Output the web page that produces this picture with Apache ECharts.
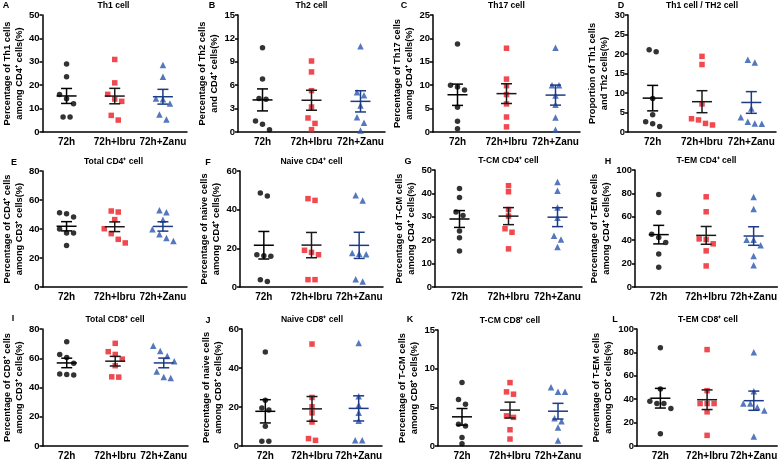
<!DOCTYPE html>
<html>
<head>
<meta charset="utf-8">
<script src="https://cdn.jsdelivr.net/npm/echarts@6/dist/echarts.min.js"></script>
<style>
html, body { margin: 0; padding: 0; background: #fff; }
#chart { width: 780px; height: 461px; }
</style>
</head>
<body>
<div id="chart"></div>
<script>
"use strict";

const groups = ["72h", "72h+Ibru", "72h+Zanu"];

// values per panel: [72h, 72h+Ibru, 72h+Zanu]
const th1 = [[29.1, 23.6, 16.0, 14.2, 12.1, 6.4, 6.4], [31.0, 21.0, 16.1, 14.1, 13.1, 7.1, 5.1], [28.6, 23.6, 14.3, 14.0, 12.2, 7.5, 5.3]];
const th2 = [[10.8, 6.8, 4.3, 4.2, 1.4, 1.0, 0.3], [9.1, 7.7, 5.3, 3.2, 1.8, 1.1, 0.3], [11.0, 5.1, 4.7, 3.4, 1.9, 1.2, 0.2]];
const th17 = [[18.8, 10.0, 9.6, 9.0, 5.3, 2.3, 0.7], [17.9, 11.3, 9.9, 8.0, 6.0, 3.2, 1.1], [18.0, 10.0, 10.0, 7.8, 5.8, 3.1, 0.5]];
const th1th2 = [[21.1, 20.6, 8.6, 4.4, 2.6, 2.1, 1.4], [19.4, 17.3, 7.2, 3.4, 3.1, 2.2, 1.8], [18.5, 17.8, 6.0, 3.8, 2.6, 2.2, 2.1]];
const cd4Total = [[51.2, 50.6, 48.3, 40.0, 37.2, 37.2, 28.7], [52.4, 51.7, 46.5, 40.2, 36.8, 32.9, 30.4], [52.9, 51.5, 46.4, 39.8, 36.3, 33.8, 31.7]];
const cd4Naive = [[48.6, 47.1, 16.7, 16.2, 15.9, 3.8, 2.9], [45.7, 44.8, 19.0, 17.9, 16.7, 3.8, 3.8], [47.4, 44.8, 17.6, 17.2, 16.9, 4.0, 2.9]];
const cd4Tcm = [[42.1, 38.3, 32.0, 30.6, 23.9, 21.1, 15.4], [43.3, 40.7, 33.1, 30.3, 24.9, 23.4, 16.3], [44.9, 41.1, 34.0, 29.6, 21.9, 20.3, 17.1]];
const cd4Tem = [[79.1, 63.7, 45.1, 42.3, 38.0, 28.3, 16.9], [77.1, 64.3, 41.1, 40.6, 36.9, 30.9, 18.0], [76.9, 66.6, 40.3, 40.3, 35.7, 26.6, 18.6]];
const cd8Total = [[71.3, 62.6, 60.5, 56.5, 49.3, 48.9, 48.5], [70.2, 64.5, 62.6, 59.4, 54.9, 47.3, 47.1], [68.6, 64.9, 61.5, 58.0, 51.0, 47.1, 46.5]];
const cd8Naive = [[48.2, 23.5, 19.5, 18.4, 10.1, 2.4, 2.4], [52.3, 24.9, 20.1, 17.0, 12.3, 3.8, 2.9], [52.8, 25.5, 20.9, 17.0, 13.0, 2.9, 2.9]];
const cd8Tcm = [[8.2, 6.0, 5.4, 2.8, 2.6, 1.1, 0.3], [8.2, 7.0, 6.7, 3.9, 3.7, 2.1, 0.9], [7.6, 7.0, 7.0, 3.6, 3.2, 2.4, 0.7]];
const cd8Tem = [[83.9, 48.7, 38.2, 36.3, 36.3, 32.0, 10.5], [82.4, 47.3, 36.3, 36.3, 36.3, 29.2, 9.1], [80.2, 46.7, 36.3, 36.3, 33.1, 30.3, 8.2]];

const panelData = [th1, th2, th17, th1th2, cd4Total, cd4Naive, cd4Tcm, cd4Tem, cd8Total, cd8Naive, cd8Tcm, cd8Tem];
const letters = ["A", "B", "C", "D", "E", "F", "G", "H", "I", "J", "K", "L"];
const titles = ["Th1 cell", "Th2 cell", "Th17 cell", "Th1 cell / TH2 cell",
	"Total CD4⁺ cell", "Naive CD4⁺ cell", "T-CM CD4⁺ cell", "T-EM CD4⁺ cell",
	"Total CD8⁺ cell", "Naive CD8⁺ cell", "T-CM CD8⁺ cell", "T-EM CD8⁺ cell"];
const yNames = [
	"Percentage of Th1 cells\namong CD4⁺ cells(%)", "Percentage of Th2 cells\nand CD4⁺ cells(%)",
	"Percentage of Th17 cells\namong CD4⁺ cells(%)", "Proportion of Th1 cells\nand Th2 cells(%)",
	"Percentage of CD4⁺ cells\namong CD3⁺ cells(%)", "Percentage of naive cells\namong CD4⁺ cells(%)",
	"Percentage of T-CM cells\namong CD4⁺ cells(%)", "Percentage of T-EM cells\namong CD4⁺ cells(%)",
	"Percentage of CD8⁺ cells\namong CD3⁺ cells(%)", "Percentage of naive cells\namong CD8⁺ cells(%)",
	"Percentage of T-CM cells\namong CD8⁺ cells(%)", "Percentage of T-EM cells\namong CD8⁺ cells(%)"];
const yMax = [50, 15, 25, 30, 80, 60, 50, 100, 80, 60, 15, 100];
const yStep = [10, 3, 5, 5, 20, 20, 10, 20, 20, 20, 5, 20];

// grid boxes: [left, top, width, height]
const boxes = [
	[40, 15, 147, 117], [238, 15, 147, 117], [433, 15, 147, 117], [628, 15, 148, 117],
	[40, 171, 147, 116], [240, 171, 143, 116], [435, 170, 147, 117], [635, 170, 143, 117],
	[42, 329, 146, 117], [242, 329, 140, 117], [438, 330, 144, 117], [637, 329, 142, 117]];
const letterPos = [[6, 6], [212, 6], [404, 6], [621, 6], [14, 163], [208, 163], [408, 162], [608, 162],
	[13, 319], [208, 321], [410, 320], [615, 320]];

const FONT = "'Liberation Sans', Arial, sans-serif";
const symbols = ["circle", "rect", "triangle"];
const colors = ["#000000", "#ec1c24", "#2b55ad"];
const barColors = ["#000000", "#1a1a1a", "#1d3a84"];

// spread points that overlap, like a column scatter
const spread = (vals, pxPerUnit) => {
	const idx = vals.map((v, i) => i).sort((a, b) => vals[b] - vals[a]);
	const off = new Array(vals.length).fill(0);
	let run = [idx[0]];
	const flush = () => {
		run.forEach((k, j) => { off[k] = (j - (run.length - 1) / 2) * 7; });
	};
	for (let j = 1; j < idx.length; j++) {
		const prev = run[run.length - 1];
		if ((vals[prev] - vals[idx[j]]) * pxPerUnit < 6) run.push(idx[j]);
		else { flush(); run = [idx[j]]; }
	}
	flush();
	return off;
};

const stats = (vals) => {
	const n = vals.length;
	const m = vals.reduce((a, b) => a + b, 0) / n;
	const sd = Math.sqrt(vals.reduce((a, b) => a + (b - m) * (b - m), 0) / (n - 1));
	return [m, sd / Math.sqrt(n)];
};

const grid = [], xAxis = [], yAxis = [], series = [], graphic = [];

panelData.forEach((panel, i) => {
	const [left, top, width, height] = boxes[i];
	grid.push({ left, top, width, height, containLabel: false });
	xAxis.push({
		type: "category", gridIndex: i, data: groups,
		axisLine: { lineStyle: { color: "#000", width: 1.5 } },
		axisTick: { alignWithLabel: true, length: 3, lineStyle: { color: "#000", width: 1.5 } },
		axisLabel: { color: "#000", fontFamily: FONT, fontWeight: "bold", fontSize: 10, margin: 5, interval: 0 },
		splitLine: { show: false }
	});
	yAxis.push({
		type: "value", gridIndex: i, min: 0, max: yMax[i], interval: yStep[i],
		name: yNames[i], nameLocation: "middle", nameGap: yMax[i] >= 100 ? 16 : 12,
		nameTextStyle: { color: "#000", fontFamily: FONT, fontWeight: "bold", fontSize: 9.3, lineHeight: 12 },
		axisLine: { show: true, lineStyle: { color: "#000", width: 1.5 } },
		axisTick: { show: true, length: 3, lineStyle: { color: "#000", width: 1.5 } },
		axisLabel: { color: "#000", fontFamily: FONT, fontWeight: "bold", fontSize: 9.5, margin: 3 },
		splitLine: { show: false }
	});

	const pxPerUnit = height / yMax[i];
	panel.forEach((vals, g) => {
		const off = spread(vals, pxPerUnit);
		series.push({
			type: "scatter", xAxisIndex: i, yAxisIndex: i, symbol: symbols[g],
			symbolSize: g === 2 ? 6.5 : 5.5, itemStyle: { color: colors[g] }, z: 2,
			data: vals.map((v, k) => ({ value: [g, v], symbolOffset: [off[k], 0] }))
		});
	});

	series.push({
		type: "custom", xAxisIndex: i, yAxisIndex: i, z: 3,
		data: panel.map((vals, g) => [g].concat(stats(vals))),
		renderItem: (params, api) => {
			const g = api.value(0), m = api.value(1), s = api.value(2);
			const c = api.coord([g, m]);
			const hi = api.coord([g, m + s])[1];
			const lo = api.coord([g, m - s])[1];
			const style = { stroke: barColors[g], lineWidth: 1.5 };
			return {
				type: "group",
				children: [
					{ type: "line", shape: { x1: c[0] - 10, y1: c[1], x2: c[0] + 10, y2: c[1] }, style },
					{ type: "line", shape: { x1: c[0], y1: hi, x2: c[0], y2: lo }, style },
					{ type: "line", shape: { x1: c[0] - 5.5, y1: hi, x2: c[0] + 5.5, y2: hi }, style },
					{ type: "line", shape: { x1: c[0] - 5.5, y1: lo, x2: c[0] + 5.5, y2: lo }, style }
				]
			};
		}
	});

	graphic.push({
		type: "text", x: left + width / 2, y: top - 9,
		style: { text: titles[i], fill: "#000", font: "bold 8.6px " + FONT, textAlign: "center", textVerticalAlign: "middle" }
	});
	graphic.push({
		type: "text", x: letterPos[i][0], y: letterPos[i][1],
		style: { text: letters[i], fill: "#000", font: "bold 9px " + FONT, textAlign: "center", textVerticalAlign: "middle" }
	});
});

const chart = echarts.init(document.getElementById("chart"), null, { renderer: "canvas" });
chart.setOption({
	animation: false,
	backgroundColor: "#fff",
	grid, xAxis, yAxis, series, graphic
});
</script>
</body>
</html>
